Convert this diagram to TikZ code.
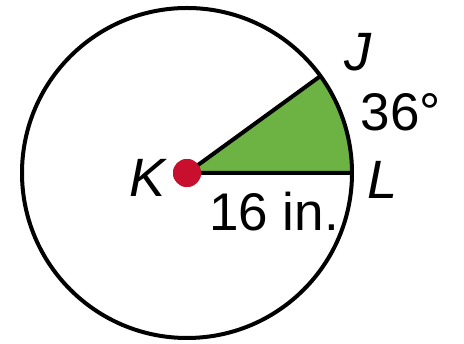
\documentclass[tikz,border=0pt]{standalone}
\usepackage{fontspec}
\setmainfont{Liberation Sans}
\definecolor{sectorgreen}{HTML}{6DB344}
\definecolor{dotred}{HTML}{C8102E}
\tikzset{
  rim/.style={line width=4pt, black},
  lbl/.style={inner sep=0pt, font=\fontsize{53}{60}\selectfont},
  vlbl/.style={lbl, font=\fontsize{54}{60}\selectfont\itshape},
}
\begin{document}
\begin{tikzpicture}[x=1pt,y=1pt]
\useasboundingbox (0,0) rectangle (464,344);

\coordinate (K) at (187,171);
\coordinate (L) at (352,171);
\coordinate (J) at ({187+165*cos(36)},{171+165*sin(36)});

% shaded sector
\fill[sectorgreen] (K) -- (L) arc[start angle=0, end angle=36, radius=165] -- cycle;
\draw[rim] (K) circle[radius=165];

\node[inner sep=0pt, circle, fill=dotred, minimum size=28pt] (Kdot) at (K) {};
\draw[rim] (J) -- (Kdot.center) -- (L);
\fill[dotred] (Kdot) circle[radius=14pt];

\node[vlbl] (Klbl) at (148,166) {K};
\node[vlbl] (Jlbl) at (358,292) {J};
\node[vlbl] (Llbl) at (383,164) {L};
\node[lbl] (ang) at (401,232) {36°};
\node[lbl] (rad) at (274,132) {16 in.};
\end{tikzpicture}
\end{document}
